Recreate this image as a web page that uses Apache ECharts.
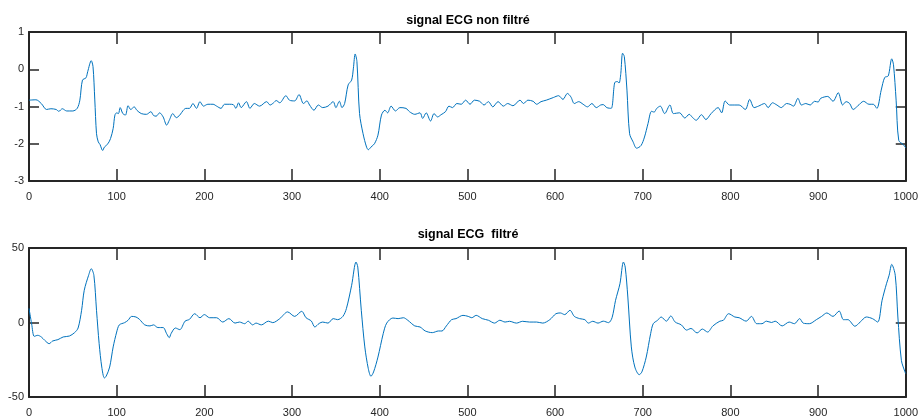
<!DOCTYPE html>
<html>
<head>
<meta charset="utf-8">
<script src="https://cdn.jsdelivr.net/npm/echarts@6/dist/echarts.min.js"></script>
<style>
  html, body { margin: 0; padding: 0; background: #fff; }
  #main { width: 921px; height: 420px; }
</style>
</head>
<body>
<div id="main"></div>
<script>
// signal non filtré : échantillons
const rawX = [0, 8, 14, 20, 25, 31, 34, 38, 43, 50, 55, 58, 61, 65, 67, 71, 73, 75, 77, 79, 81, 84, 86, 90, 93, 96, 98, 100,
  102, 104, 107, 110, 113, 116, 120, 123, 128, 134, 139, 142, 145, 149, 153, 157, 160, 164, 168, 172, 176, 179, 183, 187,
  191, 195, 199, 204, 210, 214, 219, 223, 229, 233, 236, 239, 242, 248, 252, 257, 263, 271, 275, 279, 282, 286, 293, 297,
  303, 308, 313, 317, 320, 325, 330, 335, 341, 347, 350, 354, 357, 360, 364, 368, 370, 372, 374, 377, 381, 385, 387, 390,
  394, 398, 402, 406, 409, 413, 418, 423, 430, 434, 440, 446, 449, 453, 458, 462, 466, 470, 475, 479, 483, 488, 493, 498,
  503, 508, 514, 519, 524, 529, 535, 541, 546, 552, 560, 564, 569, 575, 579, 584, 590, 598, 604, 609, 614, 618, 622, 627,
  632, 637, 642, 647, 652, 655, 659, 664, 668, 671, 673, 675, 677, 679, 682, 685, 689, 693, 698, 702, 706, 710, 713, 716,
  720, 725, 731, 735, 742, 748, 753, 757, 761, 767, 772, 778, 786, 790, 794, 799, 805, 810, 817, 822, 827, 832, 839, 843,
  848, 853, 858, 864, 868, 872, 877, 881, 886, 891, 896, 900, 903, 911, 917, 923, 928, 932, 936, 940, 945, 952, 958, 963,
  967, 972, 976, 980, 984, 986, 989, 992, 997, 1000];
const rawY = [-0.83, -0.82, -0.92, -1.08, -1.06, -1.08, -1.13, -1.06, -1.12, -1.12, -1.05, -0.83, -0.29, -0.23, -0.06, 0.23,
  0.07, -0.8, -1.73, -1.95, -2.02, -2.18, -2.09, -2.0, -1.86, -1.59, -1.23, -1.17,
  -1.19, -1.03, -1.19, -1.23, -0.98, -1.08, -1.01, -1.10, -1.19, -1.21, -1.14, -1.24, -1.26, -1.17, -1.28, -1.5, -1.37,
  -1.19, -1.30, -1.23, -1.1, -1.05, -1.05, -0.92,
  -1.05, -0.87, -0.99, -0.94, -0.94, -0.99, -1.05, -0.94, -0.94, -0.95, -1.05, -0.9, -1.03, -0.87, -1.05, -0.92, -0.99,
  -0.87, -0.96, -0.9, -0.84, -0.9, -0.71, -0.83,
  -0.85, -0.68, -0.92, -0.85, -0.96, -1.10, -0.96, -1.03, -0.99, -0.87, -1.03, -0.86, -1.03, -0.92, -0.42, -0.29, 0.03,
  0.41, 0.21, -1.19, -1.73, -2.09, -2.16, -2.09,
  -2.0, -1.77, -1.23, -1.10, -1.17, -0.99, -1.12, -1.03, -1.05, -1.14, -1.21, -1.17, -1.32, -1.17, -1.39, -1.19, -1.28,
  -1.22, -1.14, -0.99, -1.03, -0.92, -0.94, -0.83,
  -0.94, -0.83, -0.86, -0.96, -0.87, -1.01, -0.87, -0.99, -0.92, -0.98, -0.83, -0.92, -0.83, -0.86, -0.94, -0.87, -0.83,
  -0.76, -0.71, -0.81, -0.65, -0.74, -0.92, -0.87,
  -0.94, -1.01, -0.92, -1.03, -0.96, -0.95, -1.03, -1.05, -0.36, -0.33, -0.37, -0.11, 0.43, 0.34, -0.56, -1.73, -1.95,
  -2.12, -2.05, -1.82, -1.46, -1.13, -1.15, -1.05,
  -0.99, -1.19, -0.96, -1.19, -1.17, -1.31, -1.21, -1.3, -1.37, -1.22, -1.35, -1.19, -1.03, -1.17, -0.85, -0.96, -0.96,
  -0.96, -1.08, -0.81, -1.03, -0.99, -0.92, -1.03,
  -0.90, -0.96, -1.03, -0.92, -0.94, -0.99, -0.78, -0.96, -0.92, -0.96, -0.86, -0.88, -0.78, -0.73, -0.86, -0.63, -0.96,
  -0.87, -0.92, -1.08, -0.99, -0.86, -0.94, -0.94,
  -1.05, -0.56, -0.22, -0.18, 0.28, 0.12, -0.83, -1.91, -2.02, -2.11];

// signal filtré
const filtX = [0, 3, 6, 10, 14, 18, 23, 27, 33, 39, 46, 52, 56, 60, 63, 68, 71, 74, 77, 80, 83, 86, 88, 92, 96, 100, 103,
  109, 113, 117, 122, 126, 132, 138, 142, 147, 153, 157, 160, 162, 167, 172, 178, 183, 189, 195, 200, 206, 214, 221, 228,
  235, 240, 246, 250, 255, 259, 265, 273, 278, 286, 295, 303, 311, 316, 322, 326, 331, 335, 341, 347, 352, 358, 362, 368,
  373, 375, 379, 383, 387, 390, 393, 398, 404, 408, 415, 421, 427, 432, 440, 446, 452, 460, 467, 471, 476, 482, 487, 495,
  501, 505, 510, 517, 524, 531, 537, 543, 548, 556, 563, 571, 579, 586, 594, 601, 606, 611, 617, 622, 628, 634, 638, 643,
  649, 655, 661, 665, 669, 674, 678, 680, 683, 687, 691, 696, 699, 704, 709, 712, 717, 721, 727, 732, 737, 744, 750, 755,
  762, 768, 774, 780, 788, 792, 798, 805, 810, 818, 824, 830, 836, 841, 847, 851, 859, 867, 873, 879, 883, 890, 898, 904,
  910, 917, 924, 929, 934, 942, 948, 955, 962, 968, 973, 978, 981, 984, 988, 991, 995, 999, 1000];
const filtY = [9.5, -0.8, -9.3, -8.6, -9.7, -12, -14.2, -12.4, -11.5, -9.7, -9.1, -6.8, -3.7, 8.2, 21.6, 31.7, 36.1, 31.7,
  8.2, -14.2, -29.9, -37.2, -36.1, -29.9, -16.4, -6.4, -1.6,
  -0.1, 1.5, 4.1, 3.7, 2.1, -1.6, -2.3, -1.6, -3.4, -3.4, -7.5, -10.2, -7.5, -3.7, -4.8, 0.9, 2.1, 5.9, 3.2, 5.3, 3.2,
  3.2, 0.3, 2.6,
  -0.4, 0.3, -0.8, 0.9, -1.6, -0.4, -1.6, 0.9, -0.1, 2.6, 7.1, 4.1, 7.5, 3.2, 1.0, -3.0, -0.6, 0.3, -0.4, 2.6, 1.9, 4.1,
  9.3, 25,
  40.6, 37.2, 8.2, -16.4, -31, -36.1, -33.2, -23.2, -7.5, -0.4, 3.0, 2.6, 3.2, 1.5, -2.3, -3.0, -5.7, -6.8, -5.7, -5.7,
  -2.3, 1.9, 2.6, 4.8,
  4.1, 3.2, 4.8, 2.6, 1.5, -0.4, 1.5, 0.3, 0.8, -0.4, 0.8, 0.3, 0.3, -0.4, 1.9, 5.9, 6.4, 5.3, 8.2, 4.1, 2.6, 1.9, -0.4,
  0.8,
  -0.4, 0.9, -0.1, 3.2, 14.9, 26, 40.6, 37.2, 17.1, -16.4, -29.9, -35, -33.2, -23.2, -7.5, -0.8, 1.5, 3.7, 0.9, 4.4, 0.3,
  -1.6, -5.1, -4.0,
  -7.0, -4.4, -6.4, -2.3, 0.9, 1.5, 5.9, 3.7, 3.2, 0.9, 4.1, -0.8, -0.8, 0.9, 0, 0.9, -2.3, 0.3, -0.8, 2.6, -0.4, -0.8,
  1.9, 4.1,
  6.4, 4.1, 7.7, 1.9, 1.9, -2.5, 0.3, 3.7, 2.6, 0.3, 14.9, 26, 31.7, 39, 31.7, 3.7, -25.4, -33, -34.3];

const xTicks = { min: 0, max: 1000, interval: 100 };
const titles = ['signal ECG non filtré', 'signal ECG  filtré'];

const font = "'Liberation Sans', Arial, Helvetica, sans-serif";
const ink = '#262626';

function pairs(xs, ys) {
  return xs.map((x, i) => [x, ys[i]]);
}

// axe avec ticks vers l'intérieur, façon MATLAB
function xAxisFor(gridIndex, pos, showLabel) {
  return {
    type: 'value', gridIndex: gridIndex, position: pos,
    min: xTicks.min, max: xTicks.max, interval: xTicks.interval,
    axisLine: { show: true, onZero: false, lineStyle: { color: ink, width: 2 } },
    axisTick: { show: true, inside: true, length: 12, lineStyle: { color: ink, width: 1.5 } },
    axisLabel: { show: showLabel, margin: 10, color: ink, fontSize: 11, fontFamily: font,
      formatter: v => String(v) },
    splitLine: { show: false }
  };
}
function yAxisFor(gridIndex, pos, min, max, interval, showLabel) {
  return {
    type: 'value', gridIndex: gridIndex, position: pos,
    min: min, max: max, interval: interval,
    axisLine: { show: true, onZero: false, lineStyle: { color: ink, width: 2 } },
    axisTick: { show: true, inside: true, length: 10, lineStyle: { color: ink, width: 1.5 } },
    axisLabel: { show: showLabel, margin: 5, color: ink, fontSize: 11, fontFamily: font,
      formatter: v => String(v) },
    splitLine: { show: false }
  };
}

let myChart = echarts.init(document.getElementById('main'), null, { renderer: 'canvas' });

myChart.setOption({
  animation: false,
  backgroundColor: '#fff',
  title: [
    { text: titles[0], left: 468, top: 14, textAlign: 'center', padding: 0,
      textStyle: { fontSize: 12.5, fontWeight: 'bold', color: '#000', fontFamily: font } },
    { text: titles[1], left: 468, top: 228, textAlign: 'center', padding: 0,
      textStyle: { fontSize: 12.5, fontWeight: 'bold', color: '#000', fontFamily: font } }
  ],
  grid: [
    { left: 29, right: 14, top: 32, height: 149 },
    { left: 29, right: 14, top: 248, height: 149 }
  ],
  xAxis: [
    xAxisFor(0, 'bottom', true),
    xAxisFor(0, 'top', false),
    xAxisFor(1, 'bottom', true),
    xAxisFor(1, 'top', false)
  ],
  yAxis: [
    yAxisFor(0, 'left', -3, 1, 1, true),
    yAxisFor(0, 'right', -3, 1, 1, false),
    yAxisFor(1, 'left', -50, 50, 50, true),
    yAxisFor(1, 'right', -50, 50, 50, false)
  ],
  series: [
    {
      name: titles[0], type: 'line', xAxisIndex: 0, yAxisIndex: 0,
      data: pairs(rawX, rawY), showSymbol: false, smooth: 0.3,
      lineStyle: { color: '#0072BD', width: 1 }
    },
    {
      name: titles[1], type: 'line', xAxisIndex: 2, yAxisIndex: 2,
      data: pairs(filtX, filtY), showSymbol: false, smooth: 0.3,
      lineStyle: { color: '#0072BD', width: 1 }
    }
  ]
});
</script>
</body>
</html>
